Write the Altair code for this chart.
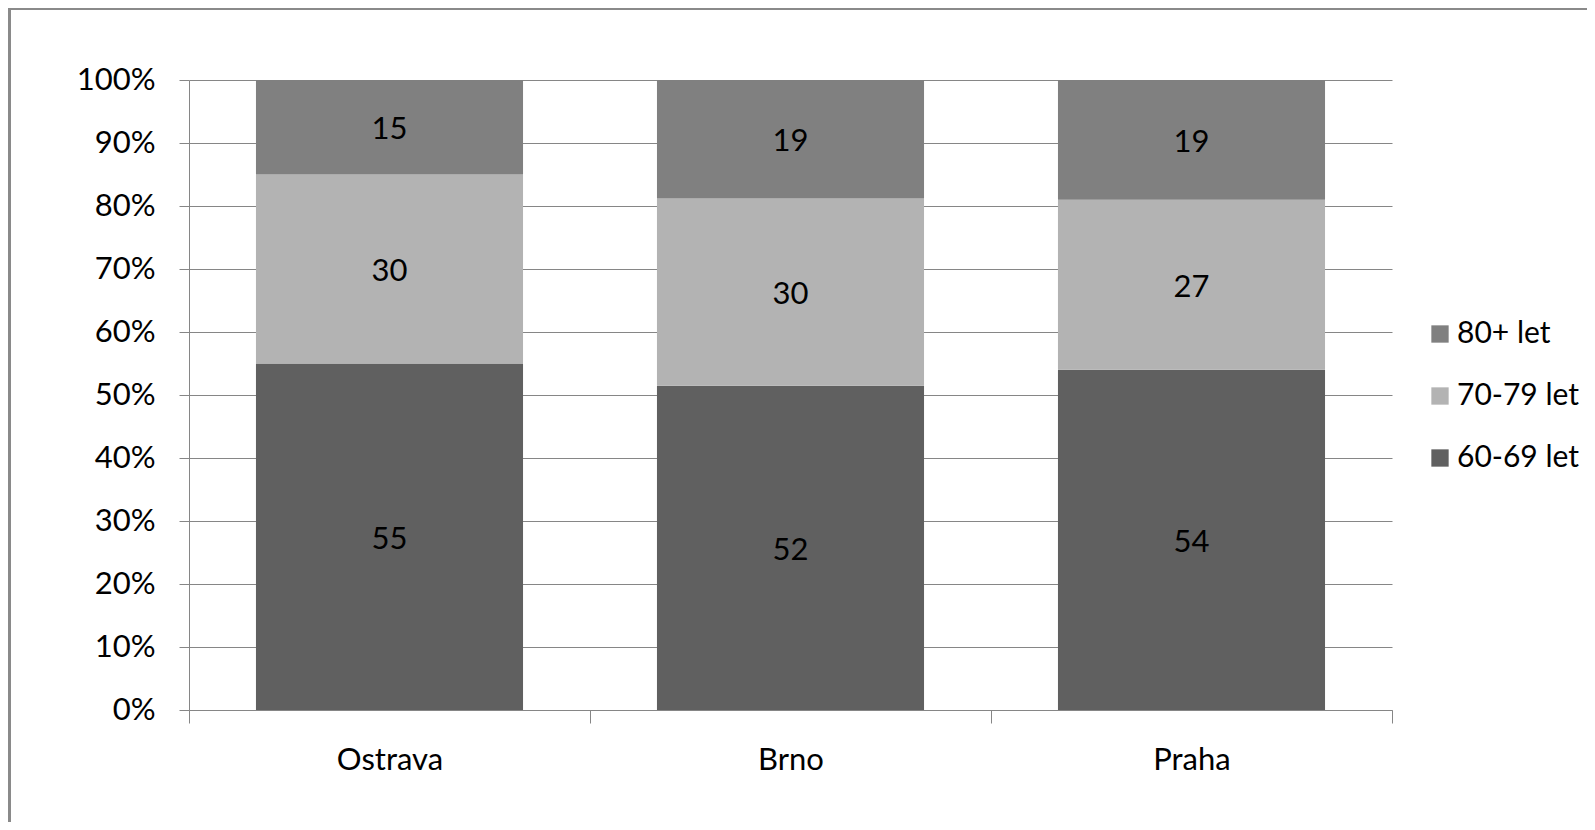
import altair as alt
import pandas as pd

cities = ["Ostrava", "Brno", "Praha"]
groups = ["60-69 let", "70-79 let", "80+ let"]
v_60_69 = [55, 52, 54]
v_70_79 = [30, 30, 27]
v_80 = [15, 19, 19]
legend_order = ["80+ let", "70-79 let", "60-69 let"]
colors = ["#808080", "#b3b3b3", "#606060"]
y_ticks = [i / 10 for i in range(11)]

rows = []
for gi, (g, vals) in enumerate(zip(groups, [v_60_69, v_70_79, v_80])):
    for c, v in zip(cities, vals):
        rows.append({"city": c, "group": g, "v": v, "ord": gi})
df = pd.DataFrame(rows)

FONT = "Lato"
FS = 31
GRAY = "#868686"

base = alt.Chart(df).transform_stack(
    stack="v", groupby=["city"], as_=["y0", "y1"], offset="normalize",
    sort=[alt.SortField("ord", order="ascending")]
).transform_calculate(mid="(datum.y0 + datum.y1) / 2")

xenc = alt.X("city:N", sort=cities, title=None,
             scale=alt.Scale(paddingInner=0, paddingOuter=0),
             axis=alt.Axis(labelAngle=0, tickBand="extent", tickSize=13,
                           labelPadding=22, grid=False, domainColor=GRAY,
                           tickColor=GRAY, labelFont=FONT, labelFontSize=FS,
                           labelColor="#000000"))

bars = base.mark_bar(width=alt.RelativeBandSize(0.666)).encode(
    x=xenc,
    y=alt.Y("y0:Q", title=None,
            scale=alt.Scale(domain=[0, 1], nice=False),
            axis=alt.Axis(values=y_ticks, format=".0%", tickSize=10,
                          labelPadding=24, grid=True, gridColor=GRAY,
                          domainColor=GRAY, tickColor=GRAY,
                          labelFont=FONT, labelFontSize=FS,
                          labelColor="#000000")),
    y2="y1:Q",
    color=alt.Color("group:N", scale=alt.Scale(domain=legend_order, range=colors),
                    legend=alt.Legend(title=None, orient="none", legendX=1236,
                                      legendY=239, symbolType="square",
                                      symbolSize=300, symbolStrokeWidth=0,
                                      labelFont=FONT, labelFontSize=30,
                                      labelColor="#000000", rowPadding=32,
                                      labelOffset=2, padding=0)),
)

labels = base.mark_text(font=FONT, fontSize=FS, color="#000000",
                        baseline="middle", align="center", dy=3).encode(
    x=alt.X("city:N", sort=cities),
    y=alt.Y("mid:Q"),
    text=alt.Text("v:Q"),
)

frame_df = pd.DataFrame({"a": [0]})
left_border = alt.Chart(frame_df).mark_rule(color="#8a8a8a", strokeWidth=3).encode(
    x=alt.value(-179.5), y=alt.value(-71), y2=alt.value(742))
top_border = alt.Chart(frame_df).mark_rule(color="#8a8a8a", strokeWidth=2).encode(
    x=alt.value(-181), x2=alt.value(1400), y=alt.value(-71))

chart = alt.layer(bars, labels, left_border, top_border).properties(
    width=1203, height=630,
    autosize=alt.AutoSizeParams(type="none"),
    padding={"left": 181, "top": 72, "right": 195, "bottom": 112},
).configure_view(strokeWidth=0)

chart.save("out.html", embed_options={"renderer": "svg", "actions": False})
